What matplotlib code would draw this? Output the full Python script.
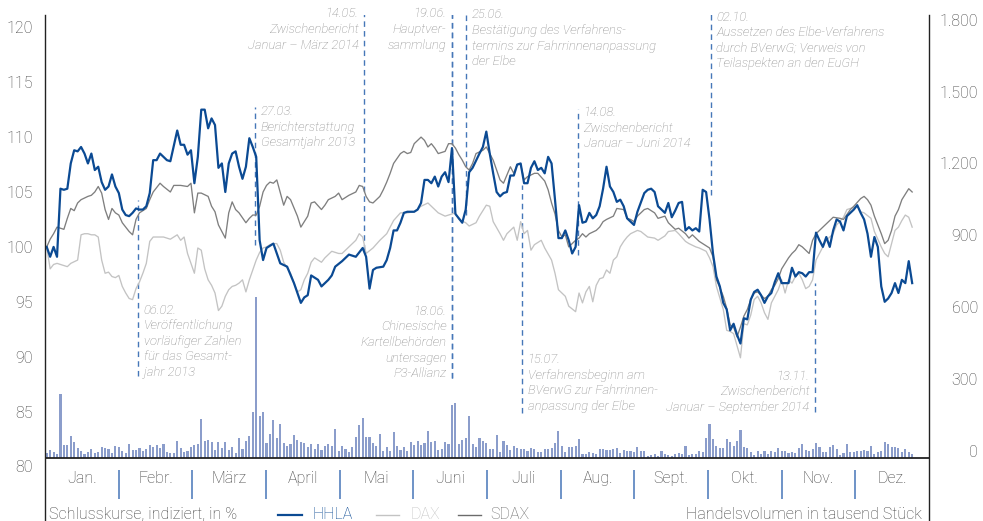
import numpy as np
import matplotlib
matplotlib.use("Agg")
import matplotlib.pyplot as plt
from matplotlib.lines import Line2D
from matplotlib.transforms import ScaledTranslation, blended_transform_factory

plt.rcParams['font.family'] = ['Roboto', 'DejaVu Sans']
plt.rcParams['font.weight'] = 'light'

# ---------------- data ----------------
months = ["Jan.", "Febr.", "März", "April", "Mai", "Juni", "Juli", "Aug.", "Sept.", "Okt.", "Nov.", "Dez."]

hhla_days = [0,1,2,3,4,5,6,7,8,9,10,11,12,13,14,15,16,17,18,19,20,21,22,23,24,25,26,27,28,29,30,31,32,33,34,35,36,38,39,40,41,42,43,44,45,46,47,48,49,50,51,52,53,54,55,56,57,58,59,60,61,62,63,64,66,67,68,70,72,74,75,76,77,79,80,82,83,84,86,87,88,90,91,92,93,94,95,96,98,99,100,101,102,103,104,105,107,108,109,110,111,112,113,114,115,116,117,118,119,120,121,122,123,124,126,127,128,129,130,131,132,133,134,135,136,137,138,139,140,141,142,143,144,145,146,147,148,149,150,151,152,153,154,155,156,157,158,159,160,161,162,163,164,165,166,167,168,169,170,171,172,174,175,176,177,178,180,181,182,183,184,185,186,187,188,189,190,191,192,193,194,195,196,197,198,199,200,201,202,203,204,205,206,207,208,209,210,211,212,213,214,215,216,217,218,219,220,221,222,223,224,225,226,227,228,229,230,231,232,233,235,236,237,238,239,240,241,242,243,244,245,246,247,248,249,250,251,252]
hhla = [100.0,99.1,100.0,99.1,105.3,105.2,105.3,107.6,108.8,108.7,109.1,108.5,107.6,108.5,107.0,107.3,105.9,105.2,105.5,106.6,105.5,104.9,103.4,102.9,102.8,103.1,103.5,103.4,103.4,103.7,104.9,107.9,107.9,108.5,108.2,107.9,107.8,110.6,109.3,109.3,108.4,108.8,105.8,108.2,112.5,112.5,110.8,111.7,111.1,107.2,107.6,105.0,107.6,108.5,108.7,107.3,106.2,107.3,109.9,109.1,108.2,100.6,98.8,99.9,100.3,99.4,98.5,98.2,96.7,94.9,95.4,95.6,97.4,97.0,96.4,97.0,97.4,98.2,98.7,99.0,99.3,99.1,99.5,99.9,99.1,96.2,97.9,98.1,98.2,98.8,99.9,101.5,101.5,102.2,103.1,103.2,103.2,103.4,104.0,106.1,106.1,105.8,106.4,105.5,106.4,106.8,105.9,109.0,103.0,102.6,102.2,103.4,106.8,107.2,108.5,109.1,110.5,108.5,106.7,105.0,104.6,104.9,105.0,106.5,106.5,107.5,107.6,105.8,105.8,107.2,107.8,107.0,107.2,106.7,108.2,107.6,104.3,100.8,100.8,101.5,100.6,99.4,100.0,103.8,102.2,102.3,103.1,102.6,102.9,103.7,105.3,107.3,105.5,105.0,104.1,104.3,103.7,102.6,102.3,102.0,103.2,104.9,105.2,105.3,105.0,103.7,103.1,104.0,102.7,103.3,104.0,104.1,101.5,101.8,101.5,101.7,101.4,105.2,105.0,102.5,99.4,97.3,96.4,94.9,94.3,92.4,93.0,92.0,91.2,93.5,93.4,95.2,95.9,96.1,95.6,94.9,95.5,95.8,96.8,97.6,96.7,96.7,96.7,98.1,97.3,97.7,97.6,97.3,97.7,97.7,101.3,100.6,100.0,100.9,100.0,101.5,102.5,102.3,101.5,102.8,103.4,103.8,103.1,102.5,101.2,99.1,100.9,100.0,96.4,95.0,95.3,95.8,96.7,95.8,97.0,96.7,98.7,96.7]

sdax_days = [0,1,2,3,4,5,6,7,8,9,10,12,13,14,15,16,17,18,19,20,21,22,24,25,26,27,28,29,30,31,33,34,36,37,39,41,42,43,44,45,47,48,49,50,52,53,54,55,56,58,59,60,61,62,63,64,65,66,67,69,70,71,73,74,75,76,77,78,80,81,82,84,85,86,87,88,90,91,92,93,94,95,97,98,99,100,101,103,104,105,106,107,109,110,111,112,113,114,116,117,118,119,120,121,122,123,124,125,127,128,129,130,131,132,133,135,136,137,138,139,140,142,143,145,146,147,148,149,150,151,152,154,155,156,157,158,160,161,162,163,165,166,168,169,170,171,172,174,175,177,178,180,181,183,184,186,187,188,189,190,191,193,194,195,196,197,198,199,200,201,202,203,204,205,206,207,209,210,211,212,213,214,215,216,217,218,219,220,222,223,224,225,226,228,229,231,232,234,235,237,238,239,240,241,242,243,244,245,246,247,248,249,250,251,252]
sdax = [100.0,100.7,101.2,101.8,101.7,101.6,102.6,103.5,103.3,104.0,104.3,104.6,104.7,105.0,105.5,104.9,103.4,102.5,103.5,103.1,102.9,102.2,101.4,101.1,102.5,103.1,103.3,103.5,104.3,105.0,105.8,105.5,105.0,105.6,105.6,105.5,105.8,103.1,104.9,104.9,104.6,103.7,103.2,102.0,100.8,103.1,104.1,103.4,103.1,102.2,102.6,102.9,102.9,103.7,105.0,105.6,105.9,105.8,106.1,103.8,104.6,104.3,102.8,101.8,102.3,102.8,104.0,104.1,103.4,103.8,104.3,104.6,104.9,104.3,104.5,104.7,105.0,105.6,105.5,104.6,104.1,104.0,104.6,105.2,105.9,106.7,107.6,108.5,108.7,108.5,108.6,109.4,110.0,109.7,109.1,109.4,109.0,108.5,108.7,109.4,109.4,109.0,108.4,107.9,107.3,107.0,107.6,108.5,108.8,109.1,108.5,107.9,107.0,106.1,105.8,107.3,106.7,107.5,107.5,106.1,106.4,106.7,106.7,106.0,105.2,104.0,103.0,101.5,100.9,101.1,100.0,100.6,100.8,101.2,100.9,101.2,101.5,101.8,102.3,102.5,102.8,103.5,103.4,102.6,102.5,102.3,102.8,103.4,103.5,103.1,102.6,102.8,102.2,101.6,101.7,101.2,100.8,101.1,100.8,100.5,100.3,99.9,99.1,97.0,96.3,95.5,94.4,92.9,92.7,91.8,92.7,93.7,94.3,95.2,95.8,95.9,95.3,95.5,96.1,96.5,97.1,98.0,98.5,99.0,99.4,99.7,100.2,100.0,99.4,100.6,101.2,101.5,101.8,102.4,102.7,102.6,102.5,103.4,103.7,104.4,104.6,104.3,103.8,102.8,102.0,101.2,100.3,100.6,101.5,102.8,103.4,104.3,104.8,105.3,105.0]

dax_days = [0,1,2,3,6,7,9,10,11,12,13,14,15,16,17,18,19,20,21,22,23,24,25,26,27,28,29,30,31,33,34,36,37,38,39,40,41,42,43,44,45,46,47,48,49,50,51,52,53,54,55,56,57,58,59,60,61,62,63,64,65,66,67,68,69,70,71,72,73,74,75,76,77,78,79,80,81,82,83,85,86,88,90,91,92,93,95,97,99,101,103,105,107,109,111,112,114,116,117,119,120,122,123,125,126,128,129,130,132,133,134,136,137,138,139,140,141,142,144,145,147,148,149,150,151,152,154,155,156,157,158,159,160,161,162,163,164,165,166,167,168,169,170,172,173,175,177,178,180,181,183,184,186,187,189,190,192,193,194,195,197,198,199,200,201,202,203,204,205,206,207,208,209,210,211,212,213,214,215,216,217,218,219,220,221,222,223,224,226,227,229,230,232,233,234,236,237,238,240,241,243,244,245,246,247,248,249,250,251,252]
dax = [100.0,98.0,98.4,98.5,98.2,98.5,98.8,101.1,101.2,101.2,101.1,101.1,100.9,98.8,97.6,97.7,97.3,97.2,97.4,96.4,95.8,95.3,95.2,96.2,96.8,97.6,98.5,100.5,100.9,100.9,100.9,100.7,100.9,101.1,100.6,100.9,99.4,98.5,97.6,99.9,99.7,98.0,97.0,96.5,95.8,94.2,94.6,95.5,96.1,96.4,96.5,96.7,97.0,95.9,97.0,97.9,98.8,99.5,99.9,100.0,100.2,100.3,100.3,99.7,98.6,98.1,97.6,96.7,95.9,96.1,97.0,97.6,98.6,99.0,98.8,98.6,99.0,99.3,99.6,99.4,99.4,100.0,100.6,101.2,100.9,99.4,99.9,100.6,101.2,102.4,103.1,103.1,103.2,103.7,104.0,103.7,103.1,102.8,102.9,103.1,102.5,102.2,101.9,102.2,102.8,103.8,103.7,102.3,101.2,100.6,101.2,101.8,100.6,102.3,101.2,101.5,99.7,100.2,100.6,99.9,98.8,97.6,96.1,95.8,95.5,94.6,94.1,95.8,94.9,95.9,96.4,95.0,96.5,97.1,97.2,97.9,97.6,98.8,99.1,100.0,100.5,100.9,101.2,101.5,101.4,100.9,100.8,100.6,101.0,101.4,101.5,101.2,100.5,100.3,100.0,99.9,99.6,99.0,98.2,96.4,94.3,92.4,92.3,92.1,91.0,89.9,93.0,92.9,93.8,95.2,95.5,94.9,94.0,93.4,94.9,95.5,96.1,97.0,95.8,97.0,96.7,97.3,97.6,97.0,96.2,96.4,97.0,98.8,100.0,100.6,101.2,102.0,102.7,103.4,103.5,103.7,103.2,103.1,102.6,101.4,100.0,99.4,99.1,100.3,101.5,101.8,102.4,102.9,102.7,101.8]

# HHLA trading volume, thousand shares per day
volume = [21,33,25,17,268,54,54,92,67,42,29,17,25,38,21,25,46,42,38,21,50,46,29,21,59,33,33,42,29,38,54,46,54,42,59,25,21,21,71,42,25,29,46,
          54,59,163,71,75,67,33,67,42,67,33,46,21,84,38,71,92,192,673,176,192,63,100,159,84,142,63,50,59,96,75,67,63,46,59,38,59,33,50,59,50,121,29,
          50,38,25,46,88,138,167,88,88,63,50,100,29,46,29,109,50,33,46,29,67,54,71,54,63,113,67,71,33,38,67,59,222,230,59,75,84,176,59,46,84,71,63,38,
          38,96,25,71,54,33,50,42,38,38,29,42,38,25,25,38,38,42,63,113,50,25,46,46,50,79,17,17,25,21,17,38,38,33,33,38,42,21,33,29,29,25,46,
          29,29,8,13,17,8,29,17,13,8,17,21,17,50,13,17,17,29,25,84,142,79,50,42,42,79,67,50,71,117,46,42,25,13,29,17,29,17,29,25,42,29,29,
          21,25,21,42,59,33,29,38,63,46,25,25,46,54,38,13,21,59,25,25,29,29,33,29,50,17,25,29,67,59,46,46,42,25,38,25,17]
vol_days = np.arange(len(volume))

left_ticks = [80, 85, 90, 95, 100, 105, 110, 115, 120]
right_ticks = [0, 300, 600, 900, 1200, 1500, 1800]
right_tick_labels = ["0", "300", "600", "900", "1.200", "1.500", "1.800"]

# events: position (trading-day index), dashed line extent (index value), text
ev_day = [26.6, 60.7, 92.4, 118.0, 118.0, 122.1, 138.4, 154.7, 193.4, 223.7]
ev_top = [104.3, 112.7, 121.7, 121.7, 121.7, 121.7, 105.6, 112.6, 121.2, 96.7]
ev_bot = [88.2, 100.2, 99.7, 88.1, 88.1, 102.9, 84.9, 99.3, 104.7, 85.0]
ev_text = [
    "06.02.\nVeröffentlichung\nvorläufiger Zahlen\nfür das Gesamt-\njahr 2013",
    "27.03.\nBerichterstattung\nGesamtjahr 2013",
    "14.05.\nZwischenbericht\nJanuar – März 2014",
    "19.06.\nHauptver-\nsammlung",
    "18.06.\nChinesische\nKartellbehörden\nuntersagen\nP3-Allianz",
    "25.06.\nBestätigung des Verfahrens-\ntermins zur Fahrrinnenanpassung\nder Elbe",
    "15.07.\nVerfahrensbeginn am\nBVerwG zur Fahrrinnen-\nanpassung der Elbe",
    "14.08.\nZwischenbericht\nJanuar – Juni 2014",
    "02.10.\nAussetzen des Elbe-Verfahrens\ndurch BVerwG; Verweis von\nTeilaspekten an den EuGH",
    "13.11.\nZwischenbericht\nJanuar – September 2014",
]
ev_text_y = [91.4, 110.9, 119.8, 119.8, 91.3, 119.0, 87.6, 110.8, 118.8, 86.8]
ev_side = ["r", "r", "l", "l", "l", "r", "r", "r", "r", "l"]

# ---------------- style ----------------
BLUE = "#0b4a93"
DAX_C = "#c3c3c3"
SDAX_C = "#7f7f7f"
BAR_C = "#8b9dcb"
DASH_C = "#4677b8"
TXT = "#3f3f3f"
ANN = "#8a8a8a"
FS = 11.5

W, H, DPI = 983, 521, 100
fig = plt.figure(figsize=(W / DPI, H / DPI), dpi=DPI)
fig.patch.set_facecolor("white")

def fx(px):
    return px / W

def fy(py):
    return 1 - py / H

L, R, T, B = 45, 929, 15, 470
ax = fig.add_axes([fx(L), fy(B), fx(R) - fx(L), fy(T) - fy(B)])
ax2 = ax.twinx()
ax.set_zorder(ax2.get_zorder() + 1)
ax.patch.set_visible(False)

ax.set_xlim(-0.5, 256.9)
ax.set_ylim(79.68, 121.12)
ax2.set_ylim(-50.1, 1851.2)

for a in (ax, ax2):
    for s in a.spines.values():
        s.set_visible(False)
    a.set_xticks([])

# volume bars
ax2.bar(vol_days, volume, width=0.62, color=BAR_C, linewidth=0, zorder=1)
ax2.set_yticks([])

# price lines
ax.plot(dax_days, dax, color=DAX_C, lw=0.95, zorder=3, solid_joinstyle="round")
ax.plot(sdax_days, sdax, color=SDAX_C, lw=0.95, zorder=4, solid_joinstyle="round")
ax.plot(hhla_days, hhla, color=BLUE, lw=1.6, zorder=5, solid_joinstyle="round")

# baseline
BASELINE = 80.77
ax.axhline(BASELINE, color="#222222", lw=1.3, zorder=6)

# left ticks
ax.set_yticks(left_ticks)
ax.set_yticklabels([str(t) for t in left_ticks])
ax.tick_params(axis="y", length=0, pad=8.6, labelsize=FS, labelcolor=TXT)
for lbl in ax.get_yticklabels():
    lbl.set_fontweight("light")

# right ticks (manual labels)
tr = blended_transform_factory(ax2.transAxes, ax2.transData) + ScaledTranslation(0.49, 0.06, fig.dpi_scale_trans)
for v, s in zip(right_ticks, right_tick_labels):
    ax2.text(1.0, v, s, transform=tr, ha="right", va="center", fontsize=FS,
             color=TXT, fontweight="light", clip_on=False)

# vertical frame lines
for px in (L, R):
    fig.add_artist(Line2D([fx(px), fx(px)], [0, fy(T)], transform=fig.transFigure,
                          color="#222222", lw=1.0))

# events
for d, t0, t1, txt, ty, side in zip(ev_day, ev_top, ev_bot, ev_text, ev_text_y, ev_side):
    ax.plot([d, d], [t1, t0], color=DASH_C, lw=1.0, ls=(0, (4, 3)), zorder=2)
    off = 4 if side == "r" else -4
    ax.annotate(txt, xy=(d, ty), xytext=(off, 0), textcoords="offset points",
                ha="left" if side == "r" else "right", va="center",
                fontsize=9.4, style="italic", fontweight="light", color=ANN,
                linespacing=1.26, zorder=7)

# month strip
axm = fig.add_axes([fx(L), fy(500), fx(R) - fx(L), fy(468) - fy(500)])
axm.set_xlim(0, 12)
axm.set_ylim(0, 1)
axm.axis("off")
axm.vlines(np.arange(1, 12), 0.03, 0.94, color="#5580bd", lw=1.2)
for k, m in enumerate(months):
    axm.text(k + 0.5, 0.53, m, ha="center", va="baseline", fontsize=FS,
             color=TXT, fontweight="light")

# legend row
yb = fy(519)
fig.text(fx(49), yb, "Schlusskurse, indiziert, in %", ha="left", va="baseline",
         fontsize=FS, color=TXT, fontweight="light")
for x0, x1, c, lw, name, tx, tc in [(278, 302, BLUE, 1.6, "HHLA", 313, BLUE),
                                     (376, 399, DAX_C, 1.0, "DAX", 410, DAX_C),
                                     (458, 481, "#6b6b6b", 1.0, "SDAX", 490, "#6b6b6b")]:
    fig.add_artist(Line2D([fx(x0), fx(x1)], [fy(515), fy(515)], transform=fig.transFigure,
                          color=c, lw=lw))
    fig.text(fx(tx), yb, name, ha="left", va="baseline", fontsize=FS, color=tc,
             fontweight="light")
fig.text(fx(922), yb, "Handelsvolumen in tausend Stück", ha="right", va="baseline",
         fontsize=FS, color=TXT, fontweight="light")

fig.savefig("out.png", dpi=DPI)
